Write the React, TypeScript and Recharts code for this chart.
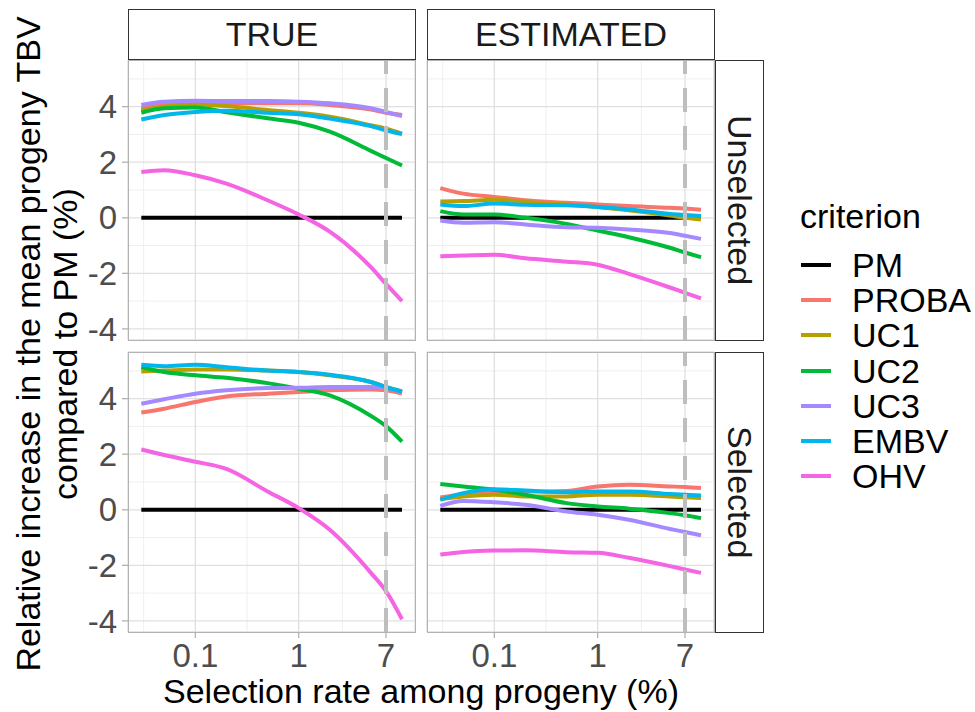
import { LineChart, Line, XAxis, YAxis, CartesianGrid, ReferenceLine } from "recharts";

// selection rates (%) at which each criterion was evaluated
const rates = [0.03, 0.05, 0.1, 0.2, 0.5, 1, 2, 5, 7, 10];

const criteria = ["PM", "PROBA", "UC1", "UC2", "UC3", "EMBV", "OHV"];
const criterionColors = ["#000000", "#F8766D", "#B79F00", "#00BA38", "#A58AFF", "#00B6EB", "#F564E3"];

const xTicks = [0.1, 1, 7];
const xMinorTicks = [0.0316, 0.316, 2.646];
const yTicks = [-4, -2, 0, 2, 4];
const yMinorTicks = [-3, -1, 1, 3, 5];

const trueUnselected: Record<string, number[]> = {
  PM: [0, 0, 0, 0, 0, 0, 0, 0, 0, 0],
  PROBA: [3.94, 4.08, 4.14, 4.12, 4.12, 4.12, 4.06, 3.9, 3.78, 3.7],
  UC1: [3.88, 4.0, 4.08, 4.02, 3.88, 3.78, 3.64, 3.33, 3.21, 3.03],
  UC2: [3.78, 3.94, 3.97, 3.8, 3.58, 3.42, 3.1, 2.41, 2.15, 1.88],
  UC3: [4.06, 4.18, 4.21, 4.2, 4.2, 4.18, 4.12, 3.94, 3.81, 3.66],
  EMBV: [3.54, 3.7, 3.81, 3.85, 3.78, 3.73, 3.57, 3.3, 3.15, 3.01],
  OHV: [1.65, 1.71, 1.53, 1.23, 0.63, 0.12, -0.5, -1.78, -2.38, -3.0],
};

const estimatedUnselected: Record<string, number[]> = {
  PM: [0, 0, 0, 0, 0, 0, 0, 0, 0, 0],
  PROBA: [1.07, 0.87, 0.75, 0.63, 0.54, 0.48, 0.42, 0.36, 0.33, 0.29],
  UC1: [0.59, 0.6, 0.65, 0.57, 0.48, 0.39, 0.27, 0.08, 0.0, -0.06],
  UC2: [0.24, 0.12, 0.12, 0.0, -0.22, -0.46, -0.7, -1.08, -1.25, -1.42],
  UC3: [-0.1, -0.18, -0.16, -0.24, -0.34, -0.36, -0.42, -0.55, -0.65, -0.76],
  EMBV: [0.48, 0.42, 0.51, 0.47, 0.45, 0.39, 0.3, 0.14, 0.1, 0.06],
  OHV: [-1.39, -1.36, -1.33, -1.46, -1.58, -1.69, -2.02, -2.51, -2.7, -2.9],
};

const trueSelected: Record<string, number[]> = {
  PM: [0, 0, 0, 0, 0, 0, 0, 0, 0, 0],
  PROBA: [3.5, 3.64, 3.88, 4.08, 4.18, 4.24, 4.3, 4.33, 4.3, 4.18],
  UC1: [4.98, 5.01, 5.05, 5.05, 5.01, 4.96, 4.84, 4.6, 4.42, 4.24],
  UC2: [5.13, 4.96, 4.84, 4.75, 4.56, 4.36, 4.12, 3.38, 3.01, 2.45],
  UC3: [3.82, 3.98, 4.18, 4.3, 4.38, 4.39, 4.42, 4.42, 4.38, 4.24],
  EMBV: [5.22, 5.17, 5.22, 5.13, 5.01, 4.96, 4.86, 4.6, 4.42, 4.26],
  OHV: [2.17, 1.97, 1.73, 1.47, 0.66, 0.06, -0.72, -2.27, -2.93, -3.94],
};

const estimatedSelected: Record<string, number[]> = {
  PM: [0, 0, 0, 0, 0, 0, 0, 0, 0, 0],
  PROBA: [0.44, 0.56, 0.66, 0.66, 0.68, 0.84, 0.9, 0.84, 0.82, 0.78],
  UC1: [0.39, 0.48, 0.54, 0.48, 0.48, 0.54, 0.54, 0.48, 0.45, 0.42],
  UC2: [0.93, 0.84, 0.72, 0.54, 0.24, 0.12, 0.04, -0.12, -0.2, -0.3],
  UC3: [0.14, 0.32, 0.27, 0.18, -0.06, -0.18, -0.36, -0.69, -0.8, -0.92],
  EMBV: [0.36, 0.6, 0.74, 0.69, 0.63, 0.66, 0.66, 0.57, 0.54, 0.51],
  OHV: [-1.61, -1.52, -1.47, -1.46, -1.53, -1.55, -1.73, -2.03, -2.15, -2.27],
};

const FONT = "'Liberation Sans', Arial, sans-serif";
const X_DOMAIN = [0.0223, 13.36];
const Y_DOMAIN = [-4.4, 5.68];
const PANEL_W = 287;
const PANEL_H = 280;
const Y_AXIS_W = 45;
const X_AXIS_H = 60;

const tickStyle = { fill: "#4D4D4D", fontSize: 33, fontFamily: FONT };

function Panel({ values, showY, showX }: { values: Record<string, number[]>; showY: boolean; showX: boolean }) {
  const rows = rates.map((x, i) => {
    const row: Record<string, number> = { x };
    criteria.forEach((c) => (row[c] = values[c][i]));
    return row;
  });

  return (
    <LineChart
      width={PANEL_W + (showY ? Y_AXIS_W : 0)}
      height={PANEL_H + (showX ? X_AXIS_H : 0)}
      data={rows}
      margin={{ top: 0, right: 0, bottom: 0, left: 0 }}
    >
      <CartesianGrid xAxisId="minor" yAxisId="minor" stroke="#EFEFEF" strokeWidth={1} />
      <CartesianGrid stroke="#E0E0E0" strokeWidth={1.3} />
      <XAxis
        dataKey="x"
        type="number"
        scale="log"
        domain={X_DOMAIN}
        allowDataOverflow
        ticks={xTicks}
        interval={0}
        hide={!showX}
        height={X_AXIS_H}
        axisLine={false}
        tickLine={{ stroke: "#B3B3B3", strokeWidth: 1.3 }}
        tickSize={6}
        tickMargin={6}
        tick={tickStyle}
        tickFormatter={(v) => String(v)}
      />
      <XAxis xAxisId="minor" dataKey="x" type="number" scale="log" domain={X_DOMAIN} allowDataOverflow ticks={xMinorTicks} interval={0} hide />
      <YAxis
        type="number"
        domain={Y_DOMAIN}
        allowDataOverflow
        ticks={yTicks}
        interval={0}
        hide={!showY}
        width={Y_AXIS_W}
        axisLine={false}
        tickLine={{ stroke: "#B3B3B3", strokeWidth: 1.3 }}
        tickSize={6}
        tickMargin={5}
        tick={tickStyle}
      />
      <YAxis yAxisId="minor" type="number" domain={Y_DOMAIN} allowDataOverflow ticks={yMinorTicks} interval={0} hide />
      {criteria.map((c, i) => (
        <Line
          key={c}
          type="monotone"
          dataKey={c}
          stroke={criterionColors[i]}
          strokeWidth={4}
          dot={false}
          isAnimationActive={false}
        />
      ))}
      <ReferenceLine x={7} stroke="#BEBEBE" strokeWidth={4} strokeDasharray="24 14" />
    </LineChart>
  );
}

const abs = (left: number, top: number, width: number, height: number) => ({
  position: "absolute" as const,
  left,
  top,
  width,
  height,
  boxSizing: "border-box" as const,
});

function TopStrip({ left, label }: { left: number; label: string }) {
  return (
    <div
      style={{
        ...abs(left, 9, PANEL_W + 1, 51),
        border: "1.3px solid #333333",
        background: "#fff",
        display: "flex",
        alignItems: "center",
        justifyContent: "center",
        fontSize: 34,
        color: "#1A1A1A",
      }}
    >
      {label}
    </div>
  );
}

function SideStrip({ top, label }: { top: number; label: string }) {
  return (
    <div
      style={{
        ...abs(715, top, 49, PANEL_H + 1),
        border: "1.3px solid #333333",
        background: "#fff",
        display: "flex",
        alignItems: "center",
        justifyContent: "center",
        fontSize: 34,
        color: "#1A1A1A",
      }}
    >
      <span style={{ writingMode: "vertical-rl" }}>{label}</span>
    </div>
  );
}

export default function App() {
  const panelLefts = [128, 427];
  const panelTops = [60, 352];
  return (
    <div style={{ position: "absolute", left: 0, top: 0, width: 975, height: 712, background: "#fff", fontFamily: FONT }}>
      <style>{"svg.recharts-surface{overflow:visible}"}</style>
      <div style={{ position: "absolute", left: 128 - Y_AXIS_W, top: 60 }}>
        <Panel values={trueUnselected} showY showX={false} />
      </div>
      <div style={{ position: "absolute", left: 427, top: 60 }}>
        <Panel values={estimatedUnselected} showY={false} showX={false} />
      </div>
      <div style={{ position: "absolute", left: 128 - Y_AXIS_W, top: 352 }}>
        <Panel values={trueSelected} showY showX />
      </div>
      <div style={{ position: "absolute", left: 427, top: 352 }}>
        <Panel values={estimatedSelected} showY={false} showX />
      </div>

      {panelTops.map((t) =>
        panelLefts.map((l) => (
          <div key={`${l}-${t}`} style={{ ...abs(l, t, PANEL_W + 1, PANEL_H + 1), border: "1.3px solid #B3B3B3", pointerEvents: "none" }} />
        ))
      )}

      <TopStrip left={128} label="TRUE" />
      <TopStrip left={427} label="ESTIMATED" />
      <SideStrip top={60} label="Unselected" />
      <SideStrip top={352} label="Selected" />

      <div
        style={{
          position: "absolute",
          left: 47 - 360,
          top: 344 - 37,
          width: 720,
          height: 74,
          transform: "rotate(-90deg)",
          textAlign: "center",
          fontSize: 34,
          lineHeight: "37px",
          color: "#000",
        }}
      >
        Relative increase in the mean progeny TBV
        <br />
        compared to PM (%)
      </div>

      <div style={{ position: "absolute", left: 121, width: 600, top: 674, textAlign: "center", fontSize: 34, lineHeight: "34px", color: "#000" }}>
        Selection rate among progeny (%)
      </div>

      <div style={{ position: "absolute", left: 800, top: 199, fontSize: 34, lineHeight: "34px", color: "#000" }}>criterion</div>
      {criteria.map((c, i) => (
        <div key={c} style={{ position: "absolute", left: 801, top: 265 + i * 35.2 - 17, height: 34, display: "flex", alignItems: "center" }}>
          <div style={{ width: 30, height: 4, background: criterionColors[i] }} />
          <div style={{ marginLeft: 21, fontSize: 34, lineHeight: "34px", color: "#000" }}>{c}</div>
        </div>
      ))}
    </div>
  );
}
